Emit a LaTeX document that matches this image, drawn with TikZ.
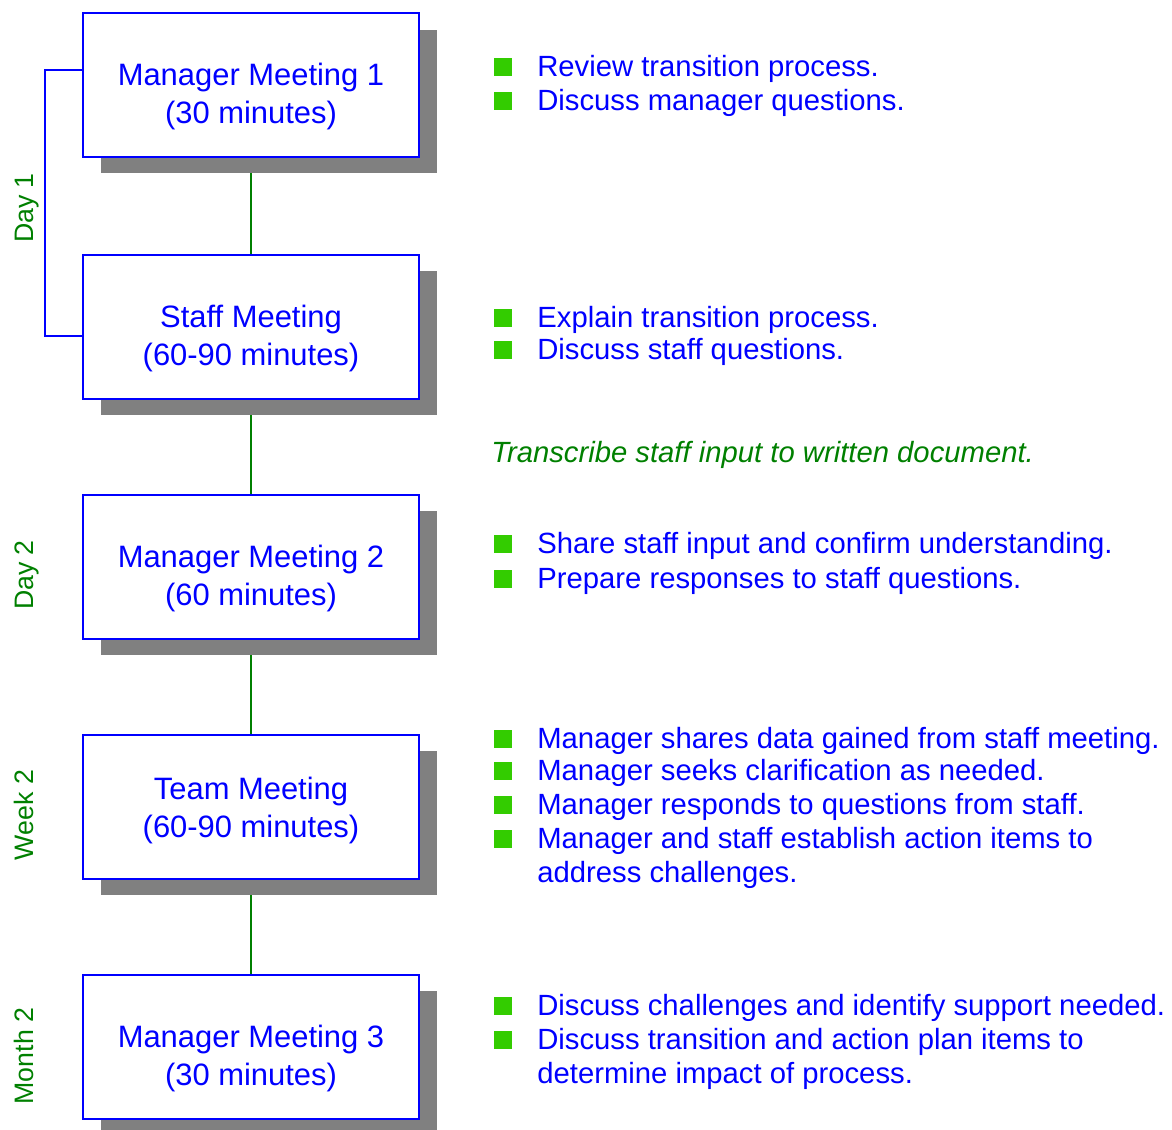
\documentclass[tikz,border=0pt]{standalone}
\usepackage{fontspec}
\setmainfont{Liberation Sans}
\usetikzlibrary{positioning,shadows,backgrounds}

\definecolor{mtgblue}{HTML}{0000FF}
\definecolor{mtggreen}{HTML}{008000}
\definecolor{bulletgreen}{HTML}{33CC00}
\definecolor{shadowgray}{HTML}{808080}

\tikzset{
  meeting/.style={draw=mtgblue, line width=1.1pt, fill=white,
    minimum width=6.72cm, minimum height=2.88cm, inner sep=0pt, outer sep=0pt,
    drop shadow={shadow xshift=0.36cm, shadow yshift=-0.33cm, fill=shadowgray, opacity=1}},
  meetingtext/.style={text=mtgblue, align=center, inner sep=0pt,
    font=\fontsize{17.6pt}{21.8pt}\selectfont},
  period/.style={text=mtggreen, rotate=90, anchor=base, inner sep=0pt,
    font=\fontsize{15.2pt}{18pt}\selectfont},
  itemmark/.style={fill=bulletgreen, minimum size=0.36cm, inner sep=0pt},
  itemtext/.style={text=mtgblue, anchor=base west, inner sep=0pt,
    font=\fontsize{16.65pt}{19.5pt}\selectfont},
  note/.style={text=mtggreen, anchor=base west, inner sep=0pt,
    font=\fontsize{16.65pt}{19.5pt}\selectfont\itshape},
  link/.style={draw=mtggreen, line width=0.6pt},
  bracket/.style={draw=mtgblue, line width=0.8pt},
}

\begin{document}
\begin{tikzpicture}[x=0.02cm,y=-0.02cm]
  \useasboundingbox (0,0) rectangle (1172,1129);

  % meetings
  \node[meeting] (mm1) at (251,85) {};
  \node[meeting, below=1.96cm of mm1] (staff) {};
  \node[meeting, below=1.92cm of staff] (mm2) {};
  \node[meeting, below=1.92cm of mm2] (team) {};
  \node[meeting, below=1.92cm of team] (mm3) {};

  \node[meetingtext] (mm1-text) at ([yshift=-0.23cm]mm1.center) {Manager Meeting 1\\(30 minutes)};
  \node[meetingtext] (staff-text) at ([yshift=-0.23cm]staff.center) {Staff Meeting\\(60-90 minutes)};
  \node[meetingtext] (mm2-text) at ([yshift=-0.23cm]mm2.center) {Manager Meeting 2\\(60 minutes)};
  \node[meetingtext] (team-text) at ([yshift=-0.07cm]team.center) {Team Meeting\\(60-90 minutes)};
  \node[meetingtext] (mm3-text) at ([yshift=-0.23cm]mm3.center) {Manager Meeting 3\\(30 minutes)};

  \begin{scope}[on background layer]
    \draw[link] (mm1) -- (staff);
    \draw[link] (staff) -- (mm2);
    \draw[link] (mm2) -- (team);
    \draw[link] (team) -- (mm3);
  \end{scope}

  % time line
  \draw[bracket] ([yshift=0.3cm]mm1.west) -- ++(-0.76cm,0) |- ([yshift=-0.18cm]staff.west);
  \node[period] (day1) at (33,208) {Day 1};
  \node[period] (day2) at (33,575) {Day 2};
  \node[period] (week2) at (33,815) {Week 2};
  \node[period] (month2) at (33,1056) {Month 2};

  % bullets
  \foreach \name/\y in {mm1-pt1/67, mm1-pt2/101, staff-pt1/318, staff-pt2/350,
      mm2-pt1/544, mm2-pt2/579, team-pt1/739, team-pt2/771, team-pt3/805,
      team-pt4/839, mm3-pt1/1006, mm3-pt2/1040}
    \node[itemmark] (\name) at (503,\y) {};

  \node[itemtext] (mm1-item1) at (537,76) {Review transition process.};
  \node[itemtext] (mm1-item2) at (537,110) {Discuss manager questions.};

  \node[itemtext] (staff-item1) at (537,327) {Explain transition process.};
  \node[itemtext] (staff-item2) at (537,359) {Discuss staff questions.};

  \node[note] (transcribe) at (491,462) {Transcribe staff input to written document.};

  \node[itemtext] (mm2-item1) at (537,553) {Share staff input and confirm understanding.};
  \node[itemtext] (mm2-item2) at (537,588) {Prepare responses to staff questions.};

  \node[itemtext] (team-item1) at (537,748) {Manager shares data gained from staff meeting.};
  \node[itemtext] (team-item2) at (537,780) {Manager seeks clarification as needed.};
  \node[itemtext] (team-item3) at (537,814) {Manager responds to questions from staff.};
  \node[itemtext] (team-item4) at (537,848) {Manager and staff establish action items to};
  \node[itemtext] (team-item4b) at (537,882) {address challenges.};

  \node[itemtext] (mm3-item1) at (537,1015) {Discuss challenges and identify support needed.};
  \node[itemtext] (mm3-item2) at (537,1049) {Discuss transition and action plan items to};
  \node[itemtext] (mm3-item2b) at (537,1083) {determine impact of process.};
\end{tikzpicture}
\end{document}
